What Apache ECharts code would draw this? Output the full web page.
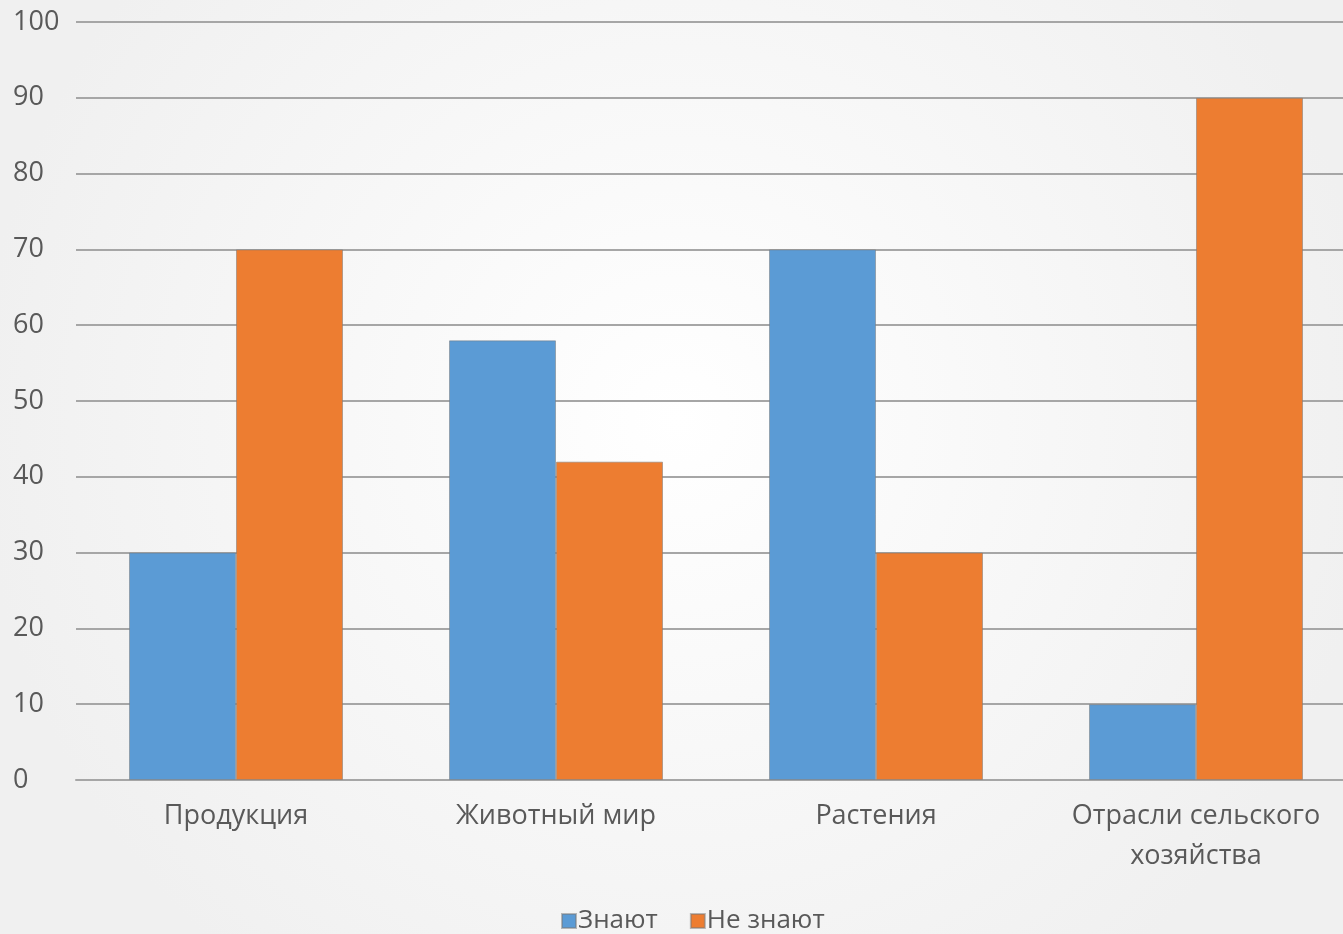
<!DOCTYPE html>
<html><head><meta charset="utf-8">
<script src="https://cdn.jsdelivr.net/npm/echarts@6/dist/echarts.min.js"></script>
<style>html,body{margin:0;padding:0;overflow:hidden;width:1343px;height:934px;}#c{width:1356px;height:934px;}</style>
</head><body><div id="c"></div>
<script>
const categories = ['Продукция', 'Животный мир', 'Растения', 'Отрасли сельского\nхозяйства'];
const znayut = [30, 58, 70, 10];
const neZnayut = [70, 42, 30, 90];
const seriesNames = ['Знают', 'Не знают'];

const chart = echarts.init(document.getElementById('c'));
const font = 'Open Sans, Noto Sans, sans-serif';
chart.setOption({
  backgroundColor: {
    type: 'radial', x: 0.5, y: 0.45, r: 0.75,
    colorStops: [{offset: 0, color: '#ffffff'}, {offset: 1, color: '#f0f0f0'}]
  },
  animation: false,
  grid: {left: 76, top: 22, bottom: 154, right: 0, containLabel: false},
  legend: {
    left: 556, top: 903,
    itemWidth: 14, itemHeight: 14, itemGap: 32,
    icon: 'rect',
    textStyle: {fontFamily: font, fontSize: 26, color: '#595959', padding: [0,0,0,-3]},
    data: seriesNames
  },
  xAxis: {
    type: 'category', data: categories,
    axisLine: {lineStyle: {color: '#a6a6a6', width: 2}},
    axisTick: {show: false},
    axisLabel: {interval: 0, fontFamily: font, fontSize: 27, color: '#595959', margin: 16, lineHeight: 40}
  },
  yAxis: {
    type: 'value', min: 0, max: 100, interval: 10,
    axisLine: {show: false}, axisTick: {show: false},
    splitLine: {lineStyle: {color: '#a6a6a6', width: 2}},
    axisLabel: {fontFamily: font, fontSize: 27, color: '#595959', align: 'left', margin: 63}
  },
  series: [
    {name: seriesNames[0], type: 'bar', data: znayut, barWidth: 107, barGap: '0%',
     itemStyle: {color: '#5b9bd5', borderColor: 'rgba(120,120,120,0.5)', borderWidth: 1}},
    {name: seriesNames[1], type: 'bar', data: neZnayut, barWidth: 107, barGap: '0%',
     itemStyle: {color: '#ed7d31', borderColor: 'rgba(120,120,120,0.5)', borderWidth: 1}}
  ]
});
</script></body></html>
